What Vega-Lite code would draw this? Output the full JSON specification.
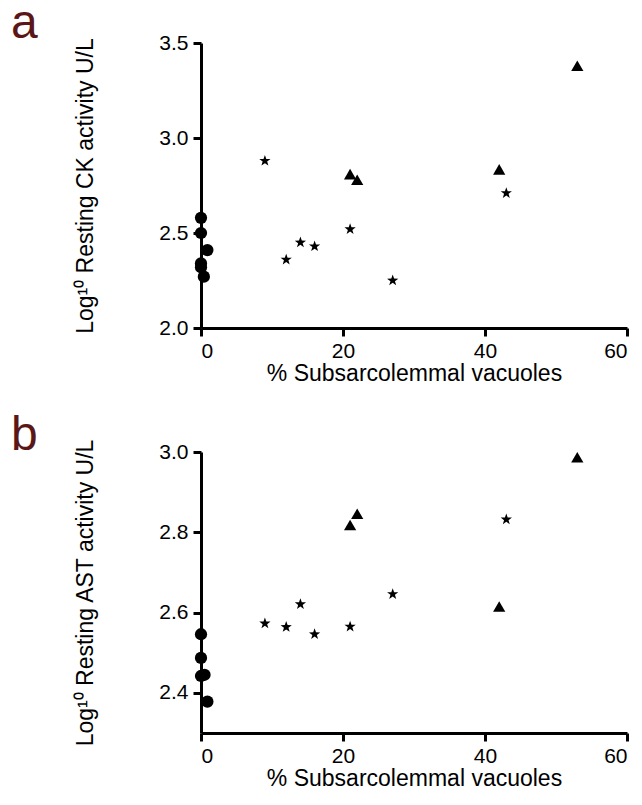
{
  "$schema": "https://vega.github.io/schema/vega-lite/v6.json",
  "padding": {"left": 11, "top": 0, "right": 0, "bottom": 0},
  "background": "white",
  "spacing": 27,
  "datasets": {
    "ck": [
      {"group": "g1", "vac": 0, "val": 2.58},
      {"group": "g1", "vac": 0, "val": 2.50},
      {"group": "g1", "vac": 0.9, "val": 2.41},
      {"group": "g1", "vac": 0, "val": 2.34},
      {"group": "g1", "vac": 0, "val": 2.32},
      {"group": "g1", "vac": 0.4, "val": 2.27},
      {"group": "g2", "vac": 9, "val": 2.88},
      {"group": "g2", "vac": 12, "val": 2.36},
      {"group": "g2", "vac": 14, "val": 2.45},
      {"group": "g2", "vac": 16, "val": 2.43},
      {"group": "g2", "vac": 21, "val": 2.52},
      {"group": "g2", "vac": 27, "val": 2.25},
      {"group": "g2", "vac": 43, "val": 2.71},
      {"group": "g3", "vac": 21, "val": 2.81},
      {"group": "g3", "vac": 22, "val": 2.78},
      {"group": "g3", "vac": 42, "val": 2.835},
      {"group": "g3", "vac": 53, "val": 3.38}
    ],
    "ast": [
      {"group": "g1", "vac": 0, "val": 2.546},
      {"group": "g1", "vac": 0, "val": 2.487},
      {"group": "g1", "vac": 0, "val": 2.442},
      {"group": "g1", "vac": 0.5, "val": 2.445},
      {"group": "g1", "vac": 0.9, "val": 2.378},
      {"group": "g2", "vac": 9, "val": 2.573},
      {"group": "g2", "vac": 12, "val": 2.564},
      {"group": "g2", "vac": 14, "val": 2.621},
      {"group": "g2", "vac": 16, "val": 2.546},
      {"group": "g2", "vac": 21, "val": 2.565},
      {"group": "g2", "vac": 27, "val": 2.646},
      {"group": "g2", "vac": 43, "val": 2.832},
      {"group": "g3", "vac": 21, "val": 2.818},
      {"group": "g3", "vac": 22, "val": 2.846},
      {"group": "g3", "vac": 42, "val": 2.615},
      {"group": "g3", "vac": 53, "val": 2.987}
    ]
  },
  "vconcat": [
    {
      "width": 426,
      "height": 285,
      "title": {"text": "a", "anchor": "start", "frame": "group", "fontSize": 48, "color": "#5b1717", "dx": -190, "offset": -54, "baseline": "alphabetic", "font": "Liberation Sans", "fontWeight": "normal"},
      "data": {"name": "ck"},
      "encoding": {
        "x": {"field": "vac", "type": "quantitative", "scale": {"domain": [0, 60], "nice": false, "zero": false},
              "axis": {"values": [0, 20, 40, 60], "title": "% Subsarcolemmal vacuoles"}},
        "y": {"field": "val", "type": "quantitative", "scale": {"domain": [2.0, 3.5], "nice": false, "zero": false},
              "axis": {"values": [2.0, 2.5, 3.0, 3.5], "format": ".1f", "title": "Log¹⁰ Resting CK activity U/L"}}
      },
      "layer": [
        {"transform": [{"filter": "datum.group === 'g1'"}], "mark": {"type": "point", "shape": "circle", "size": 150, "filled": true, "opacity": 1, "color": "black"}},
        {"transform": [{"filter": "datum.group === 'g2'"}], "mark": {"type": "point", "shape": "M0,-1L0.235,-0.324L0.951,-0.309L0.38,0.124L0.588,0.809L0,0.4L-0.588,0.809L-0.38,0.124L-0.951,-0.309L-0.235,-0.324Z", "size": 140, "filled": true, "opacity": 1, "color": "black"}},
        {"transform": [{"filter": "datum.group === 'g3'"}], "mark": {"type": "point", "shape": "triangle-up", "size": 150, "filled": true, "opacity": 1, "color": "black"}}
      ]
    },
    {
      "width": 426,
      "height": 281,
      "title": {"text": "b", "anchor": "start", "frame": "group", "fontSize": 48, "color": "#5b1717", "dx": -190, "offset": -60, "baseline": "alphabetic", "font": "Liberation Sans", "fontWeight": "normal"},
      "data": {"name": "ast"},
      "encoding": {
        "x": {"field": "vac", "type": "quantitative", "scale": {"domain": [0, 60], "nice": false, "zero": false},
              "axis": {"values": [0, 20, 40, 60], "title": "% Subsarcolemmal vacuoles"}},
        "y": {"field": "val", "type": "quantitative", "scale": {"domain": [2.3, 3.0], "nice": false, "zero": false},
              "axis": {"values": [2.4, 2.6, 2.8, 3.0], "format": ".1f", "title": "Log¹⁰ Resting AST activity U/L"}}
      },
      "layer": [
        {"transform": [{"filter": "datum.group === 'g1'"}], "mark": {"type": "point", "shape": "circle", "size": 150, "filled": true, "opacity": 1, "color": "black"}},
        {"transform": [{"filter": "datum.group === 'g2'"}], "mark": {"type": "point", "shape": "M0,-1L0.235,-0.324L0.951,-0.309L0.38,0.124L0.588,0.809L0,0.4L-0.588,0.809L-0.38,0.124L-0.951,-0.309L-0.235,-0.324Z", "size": 140, "filled": true, "opacity": 1, "color": "black"}},
        {"transform": [{"filter": "datum.group === 'g3'"}], "mark": {"type": "point", "shape": "triangle-up", "size": 150, "filled": true, "opacity": 1, "color": "black"}}
      ]
    }
  ],
  "config": {
    "view": {"stroke": null},
    "font": "Liberation Sans",
    "axis": {
      "grid": false,
      "domainColor": "black",
      "domainWidth": 3,
      "tickColor": "black",
      "tickWidth": 3,
      "tickSize": 8,
      "labelFontSize": 21,
      "labelColor": "black",
      "labelFont": "Liberation Sans",
      "titleFont": "Liberation Sans",
      "titleFontSize": 23,
      "titleFontWeight": "normal",
      "titleColor": "black"
    },
    "axisX": {"labelPadding": 4, "titlePadding": 1},
    "axisY": {"labelPadding": 5, "titlePadding": 61}
  }
}
